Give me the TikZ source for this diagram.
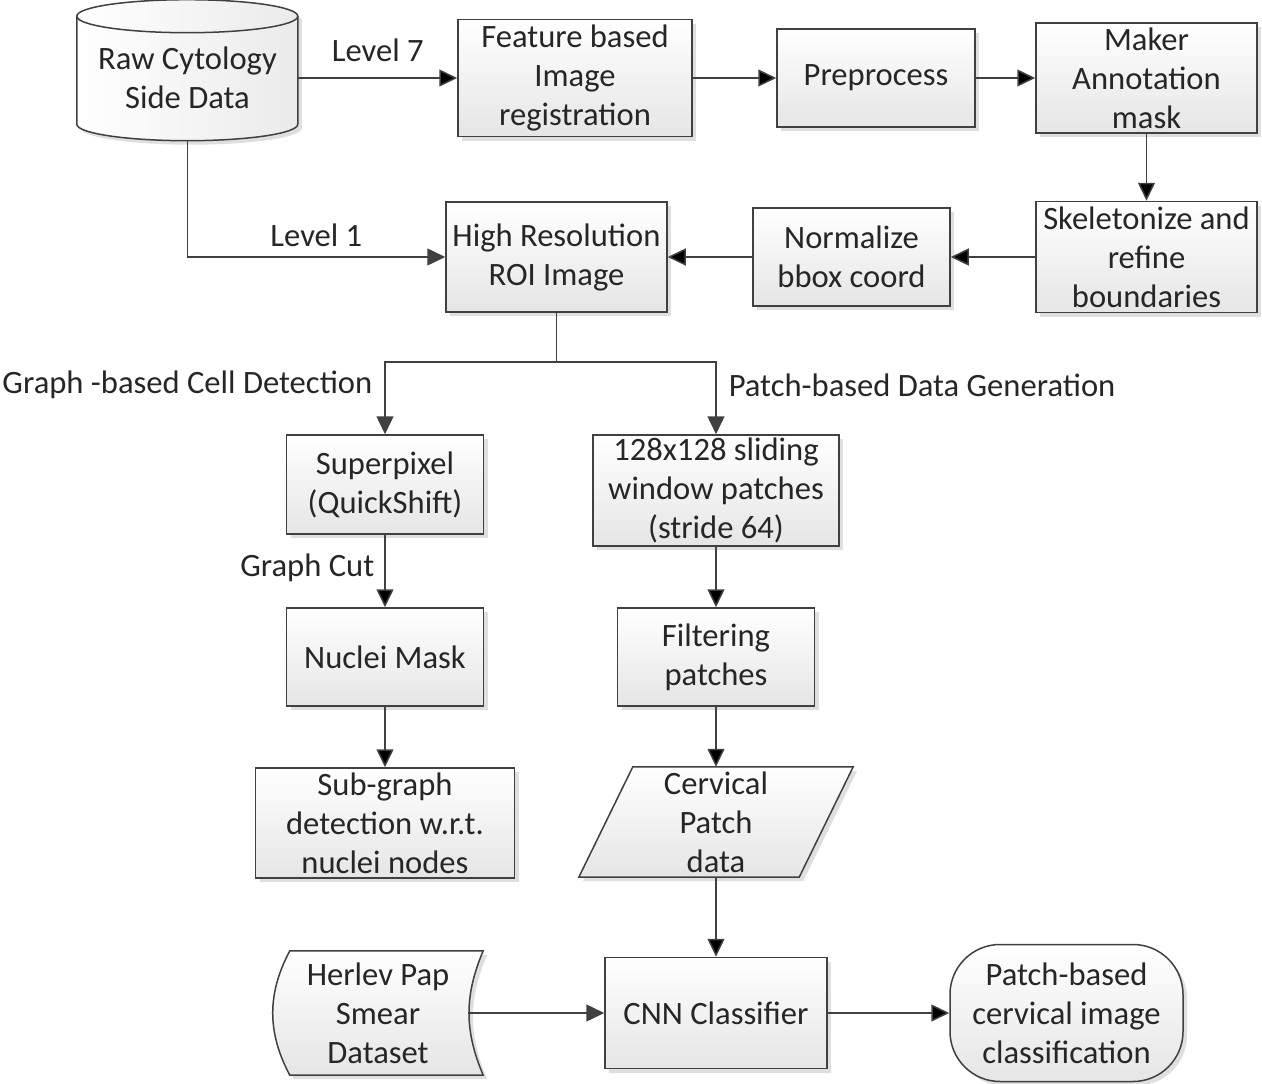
\documentclass[tikz,border=0pt]{standalone}
\usepackage{fontspec}
\setmainfont{Carlito}
\usetikzlibrary{arrows.meta,positioning,shadows,backgrounds}
\definecolor{linec}{HTML}{404040}
\definecolor{txtc}{HTML}{262626}
\begin{document}
\begin{tikzpicture}[x=1pt,y=1pt,font=\fontsize{32.6}{39}\selectfont,text=txtc]

      \tikzset{shp/.style={draw=linec, line width=1.5pt, top color=white, bottom color=black!10,
                 drop shadow={shadow xshift=4pt, shadow yshift=-4pt, fill=black!18, opacity=.7}},
               proc/.style={shp, rectangle, align=center, inner sep=0pt},
               txt/.style={align=center, inner sep=0pt},
               lbl/.style={inner sep=2pt},
               arr/.style={draw=linec, line width=1.5pt, -{Triangle[length=18pt,width=17pt]}}}
      \useasboundingbox (0,0) rectangle (1262,-1084);
% Nodes
	%Top row
      	\node[txt, minimum width=221pt, minimum height=124pt] (raw) at (187.5,-78) {Raw Cytology\\Side Data};
      	\node[proc, minimum width=234pt, minimum height=117pt] (feat) at (575,-78) {Feature based\\Image\\registration};
      	\node[proc, minimum width=198pt, minimum height=98pt] (prep) at (876,-78) {Preprocess};
      	\node[proc, minimum width=221pt, minimum height=110pt] (mask) at (1146.5,-78) {Maker\\Annotation\\mask};

	%Second row
      	\node[proc, minimum width=221pt, minimum height=111pt] (skel) at (1146.5,-257) {Skeletonize and\\refine\\boundaries};
      	\node[proc, minimum width=197pt, minimum height=98pt] (norm) at (851.5,-257) {Normalize\\bbox coord};
      	\node[proc, minimum width=221pt, minimum height=110pt] (roi) at (556.5,-257) {High Resolution\\ROI Image};
      	\coordinate (split) at (556.5,-362);

	%Graph branch
      	\node[proc, minimum width=197pt, minimum height=99pt] (sp) at (385,-484.5) {Superpixel\\(QuickShift)};
      	\node[proc, minimum width=197pt, minimum height=98pt] (nuc) at (385,-657) {Nuclei Mask};
      	\node[proc, minimum width=259pt, minimum height=110pt] (sub) at (385,-823) {Sub-graph\\detection w.r.t.\\nuclei nodes};

	%Patch branch
      	\node[proc, minimum width=246pt, minimum height=111pt] (win) at (716,-490.5) {128x128 sliding\\window patches\\(stride 64)};
      	\node[proc, minimum width=197pt, minimum height=98pt] (filt) at (716,-657) {Filtering\\patches};
      	\node[txt, minimum width=274pt, minimum height=110pt] (cerv) at (716,-822) {Cervical\\Patch\\data};

	%Bottom row
      	\node[txt, minimum width=210pt, minimum height=124pt] (herl) at (378,-1013) {Herlev Pap\\Smear\\Dataset};
      	\node[proc, minimum width=222pt, minimum height=111pt] (cnn) at (716,-1013) {CNN Classifier};
      	\node[proc, rounded corners=50pt, minimum width=233pt, minimum height=137pt] (out) at (1066.5,-1013) {Patch-based\\cervical image\\classification};
      	\coordinate (herlout) at ([xshift=-14pt]herl.east);

	%Outlines behind text
      	\begin{scope}[on background layer]
      	\path[shp, left color=white, right color=black!8] ([yshift=16pt]raw.south west) -- ++(0,108) arc(180:0:110.5 and 16.5)
      	      -- ++(0,-108) arc(0:-180:110.5 and 16.5) -- cycle;
      	\draw[draw=linec, line width=1.5pt] ([yshift=124pt]raw.south west) arc(180:360:110.5 and 16.5);
      	\path[shp] ([xshift=54pt]cerv.north west) -- (cerv.north east) -- ([xshift=-54pt]cerv.south east) -- (cerv.south west) -- cycle;
      	\path[shp] ([xshift=17pt]herl.north west) -- (herl.north east) to[bend right=23] (herl.south east)
      	      -- ([xshift=17pt]herl.south west) to[bend left=28] ([xshift=17pt]herl.north west) -- cycle;
      	\end{scope}

% Edges
	%Top
		\path[arr] (raw) edge node[lbl, above=14pt] {Level 7} (feat);
		\path[arr] (feat) edge (prep);
		\path[arr] (prep) edge (mask);
		\path[arr] (mask) edge (skel);
		\path[arr] (skel) edge (norm);
		\path[arr] (norm) edge (roi);
		\draw[arr] (raw.south) |- node[lbl, above=8pt, pos=0.75] {Level 1} (roi);

	%Split
		\draw[draw=linec, line width=1.5pt] (roi.south) -- (split);
		\draw[arr] (split) -| node[lbl, left=10pt, pos=0.66] {Graph -based Cell Detection} (sp);
		\draw[arr] (split) -| node[lbl, right=10pt, pos=0.66] {Patch-based Data Generation} (win);

	%Branches
		\path[arr] (sp) edge node[lbl, left=8pt, pos=0.46] {Graph Cut} (nuc);
		\path[arr] (nuc) edge (sub);
		\path[arr] (win) edge (filt);
		\path[arr] (filt) edge (cerv);
		\path[arr] (cerv) edge (cnn);
		\draw[arr] (herlout) -- (cnn);
		\path[arr] (cnn) edge (out);

	\end{tikzpicture}
\end{document}
